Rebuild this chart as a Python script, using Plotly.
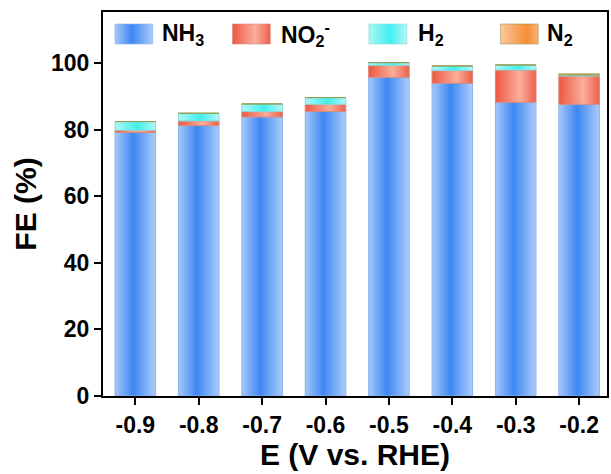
import plotly.graph_objects as go

# Applied potential (V vs. RHE) and Faradaic efficiencies (%) of each product
potentials = [-0.9, -0.8, -0.7, -0.6, -0.5, -0.4, -0.3, -0.2]
tick_labels = ["-0.9", "-0.8", "-0.7", "-0.6", "-0.5", "-0.4", "-0.3", "-0.2"]
fe_nh3 = [79.1, 81.2, 83.8, 85.4, 95.7, 93.9, 88.2, 87.6]
fe_no2 = [0.7, 1.4, 1.6, 2.2, 3.6, 3.8, 9.7, 8.5]
fe_h2 = [2.6, 2.3, 2.3, 2.0, 0.8, 1.4, 1.5, 0.3]
fe_n2 = [0.1, 0.1, 0.1, 0.2, 0.1, 0.1, 0.1, 0.3]
product_names = ["NH<sub>3</sub>", "NO<sub>2</sub><sup>-</sup>", "H<sub>2</sub>", "N<sub>2</sub>"]

# Horizontal gradients (edge -> core -> edge) and outline colour per product
gradients = [
    [[0, "#a6c8f9"], [0.45, "#3e87f4"], [1, "#abcdfa"]],
    [[0, "#ee573f"], [0.6, "#f9af9c"], [1, "#ef5f49"]],
    [[0, "#b0f6f6"], [0.55, "#3ff0f0"], [1, "#b6f7f7"]],
    [[0, "#fcc9a0"], [0.7, "#f68d34"], [1, "#f9b27c"]],
]
outlines = ["#8db3ea", "#d98a7c", "#8ad9d9", "#9a9a50"]

FONT = "Liberation Sans, Arial, sans-serif"
bar_width = 0.064
fig = go.Figure()

# Stacked bars drawn as gradient-filled rectangles on the data axes
bottoms = [0.0] * len(potentials)
for values, scale, edge in zip([fe_nh3, fe_no2, fe_h2, fe_n2], gradients, outlines):
    for i, (x, v) in enumerate(zip(potentials, values)):
        b = bottoms[i]
        t = b + v
        x0, x1 = x - bar_width / 2, x + bar_width / 2
        fig.add_trace(go.Scatter(
            x=[x0, x1, x1, x0, x0],
            y=[b, b, t, t, b],
            mode="lines",
            fill="toself",
            fillgradient=dict(type="horizontal", colorscale=scale),
            line=dict(color=edge, width=1),
            showlegend=False,
            hoverinfo="skip",
        ))
        bottoms[i] = t

# Key: gradient swatches on an overlay axis measured in pixels of the plot area
key_left = [12, 130, 267, 399]   # swatch left edges
key_text = [57, 177, 314, 444]   # label left edges
sw_w, sw_top, sw_bot = 38, 12, 32
for left, tx, name, scale, edge in zip(key_left, key_text, product_names, gradients, outlines):
    fig.add_trace(go.Scatter(
        x=[left, left + sw_w, left + sw_w, left, left],
        y=[sw_bot, sw_bot, sw_top, sw_top, sw_bot],
        xaxis="x2", yaxis="y2",
        mode="lines",
        fill="toself",
        fillgradient=dict(type="horizontal", colorscale=scale),
        line=dict(color=edge, width=0.6),
        showlegend=False,
        hoverinfo="skip",
    ))
    fig.add_annotation(
        x=tx, y=22, xref="x2", yref="y2",
        text=name, showarrow=False,
        xanchor="left", yanchor="middle",
        font=dict(family=FONT, size=23, color="black", weight="bold"),
    )

tick_font = dict(family=FONT, size=23, color="black", weight="bold")
title_font = dict(family=FONT, size=30, color="black", weight="bold")

fig.update_layout(
    width=611,
    height=474,
    margin=dict(l=103, r=2, t=12, b=78),
    paper_bgcolor="white",
    plot_bgcolor="white",
    font=dict(family=FONT, color="black"),
    showlegend=False,
    xaxis=dict(
        range=[-0.951, -0.156],
        tickmode="array",
        tickvals=potentials,
        ticktext=tick_labels,
        ticks="outside",
        ticklen=7,
        tickwidth=2,
        tickcolor="black",
        showline=True,
        linecolor="black",
        linewidth=2,
        mirror=True,
        showgrid=False,
        zeroline=False,
        tickfont=tick_font,
        title=dict(text="E (V vs. RHE)", font=title_font, standoff=0),
    ),
    yaxis=dict(
        range=[0, 115.3],
        tickvals=[0, 20, 40, 60, 80, 100],
        ticks="outside",
        ticklen=7,
        tickwidth=2,
        tickcolor="black",
        showline=True,
        linecolor="black",
        linewidth=2,
        mirror=True,
        showgrid=False,
        zeroline=False,
        tickfont=tick_font,
        title=dict(text="FE (%)", font=title_font, standoff=6),
    ),
    xaxis2=dict(overlaying="x", range=[0, 506], visible=False, fixedrange=True),
    yaxis2=dict(overlaying="y", range=[384, 0], visible=False, fixedrange=True),
)

fig.write_html("out.html")
